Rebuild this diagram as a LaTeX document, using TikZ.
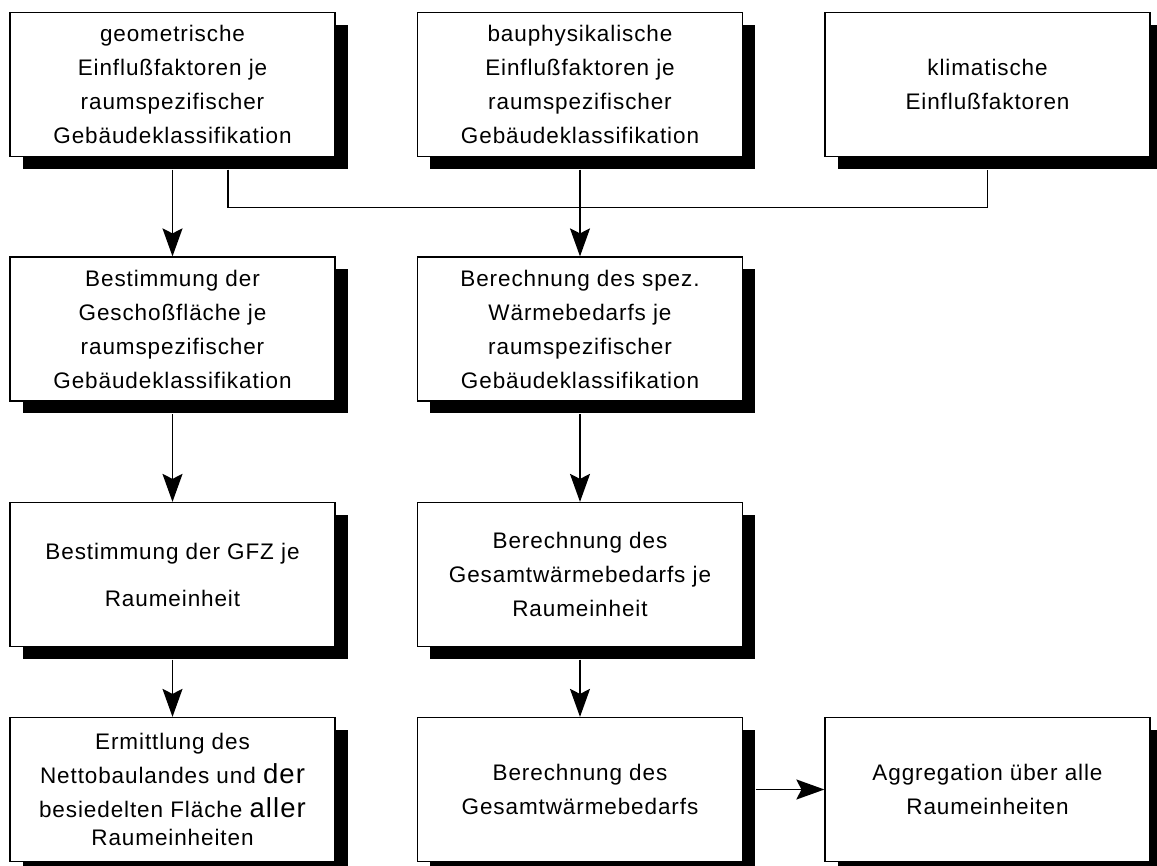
\documentclass[tikz,border=0pt]{standalone}
\usepackage{fontspec}
\setmainfont{Liberation Sans}[LetterSpace=4]
\usetikzlibrary{shadows,arrows.meta}
\tikzset{
  box/.style={draw=black, line width=1.2pt, fill=white, minimum width=325pt, minimum height=144pt,
    inner sep=0pt, align=center, font=\fontsize{22.5}{34}\selectfont,
    general shadow={fill=black, shadow xshift=12.5pt, shadow yshift=-12.5pt}},
  conn/.style={line width=1.6pt, draw=black},
  arr/.style={conn, -{Stealth[length=28pt, width=20pt, inset=5pt]}}
}
\newcommand{\bigw}[1]{{\fontsize{27.5}{34}\selectfont #1}}
\begin{document}
\begin{tikzpicture}[x=1pt,y=-1pt]
\useasboundingbox (0,0) rectangle (1157,866);
% row 1
\node[box] (b1) at (172.5,84.5) {geometrische\\Einflußfaktoren je\\raumspezifischer\\Gebäudeklassifikation};
\node[box] (b2) at (580,84.5) {bauphysikalische\\Einflußfaktoren je\\raumspezifischer\\Gebäudeklassifikation};
\node[box] (b3) at (987.5,84.5) {klimatische\\Einflußfaktoren};
% row 2
\node[box] (b4) at (172.5,329) {Bestimmung der\\Geschoßfläche je\\raumspezifischer\\Gebäudeklassifikation};
\node[box] (b5) at (580,329) {Berechnung des spez.\\Wärmebedarfs je\\raumspezifischer\\Gebäudeklassifikation};
% row 3
\node[box] (b6) at (172.5,574.5) {Bestimmung der GFZ je\\[13pt]Raumeinheit};
\node[box] (b7) at (580,574.5) {Berechnung des\\Gesamtwärmebedarfs je\\Raumeinheit};
% row 4
\node[box] (b8) at (172.5,789.5) {Ermittlung des\\Nettobaulandes und \bigw{der}\\besiedelten Fläche \bigw{aller}\\[-6pt]Raumeinheiten};
\node[box] (b9) at (580,789.5) {Berechnung des\\Gesamtwärmebedarfs};
\node[box] (b10) at (987.5,789.5) {Aggregation über alle\\Raumeinheiten};
% connectors
\draw[arr] ([yshift=-12.5pt]b1.south) -- (b4.north);
\draw[arr] ([yshift=-12.5pt]b2.south) -- (b5.north);
\draw[conn] ([xshift=55.5pt,yshift=-12.5pt]b1.south) |- ([yshift=-50.5pt]b3.south) -- ([yshift=-12.5pt]b3.south);
\draw[arr] ([yshift=-12.5pt]b4.south) -- (b6.north);
\draw[arr] ([yshift=-12.5pt]b5.south) -- (b7.north);
\draw[arr] ([yshift=-12.5pt]b6.south) -- (b8.north);
\draw[arr] ([yshift=-12.5pt]b7.south) -- (b9.north);
\draw[arr] ([xshift=12.5pt]b9.east) -- (b10.west);
\end{tikzpicture}
\end{document}
